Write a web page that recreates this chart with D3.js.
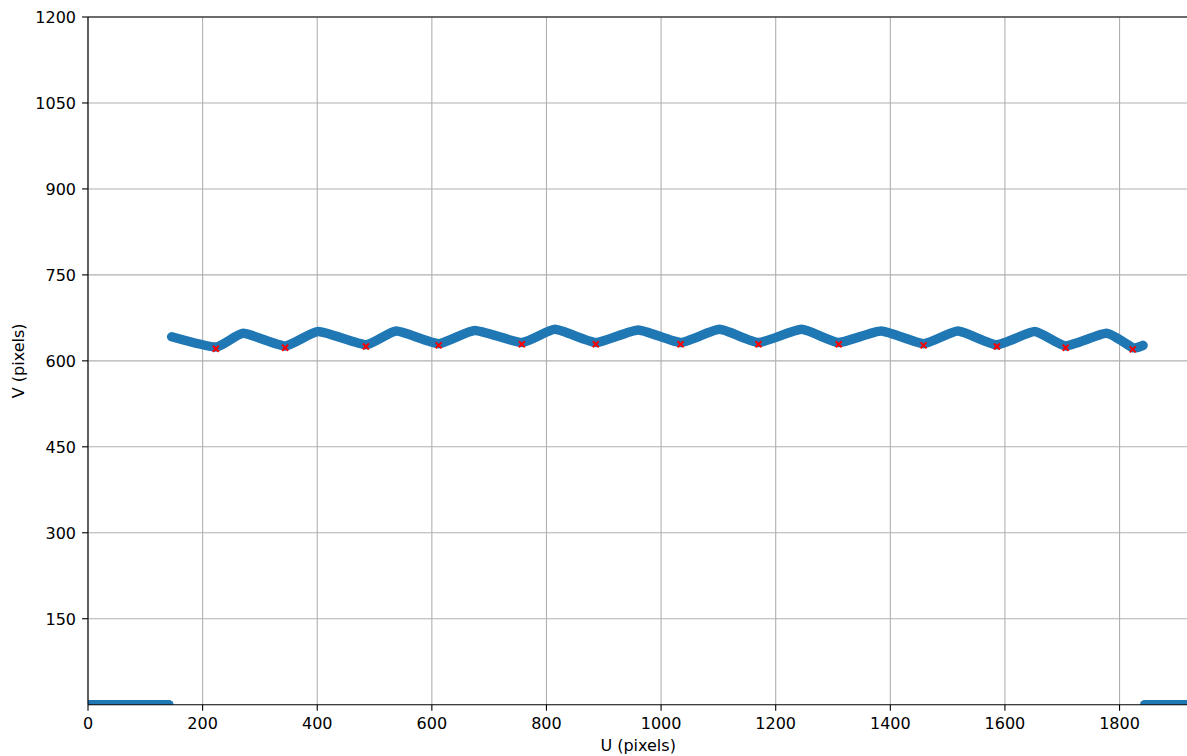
<!DOCTYPE html>
<html><head><meta charset="utf-8">
<script src="https://cdn.jsdelivr.net/npm/d3@7"></script>
<style>body{margin:0;background:#fff}svg{display:block}text{font-family:"DejaVu Sans",sans-serif;fill:#000}</style>
</head><body><svg id="c" width="1187" height="756"></svg>
<script>
// Data
const pathU = [146,223,271,344,402,485,538,612,675,757,815,886,960,1034,1102,1170,1245,1310,1384,1458,1518,1586,1652,1706,1777,1823,1841];
const pathV = [642,624,648,626,651,628,652,630,653,632,655,632,654,632,655,632,655,632,652,630,652,628,651,626,648,623,627];
const troughU = [223,344,485,612,757,886,1034,1170,1310,1458,1586,1706,1823];
const troughV = [621,623,625,627,629,629,629,629,629,627,625,623,620];
const zeroLeftU = [0,141];
const zeroRightU = [1844,1920];
const xTicks = [0,200,400,600,800,1000,1200,1400,1600,1800];
const yTicks = [150,300,450,600,750,900,1050,1200];

const svg = d3.select("#c");
const pLeft = 88, pTop = 17, pBottom = 704.7;
const k = (pBottom - pTop) / 1200;
const x = d3.scaleLinear().domain([0,1920]).range([pLeft, pLeft + 1920*k]);
const y = d3.scaleLinear().domain([0,1200]).range([pBottom, pTop]);

svg.append("defs").append("clipPath").attr("id","clip")
  .append("rect").attr("x",pLeft).attr("y",pTop).attr("width",x(1920)-pLeft).attr("height",pBottom-pTop);

// grid
const g = svg.append("g");
g.selectAll(".gx").data(xTicks).join("line")
  .attr("x1",d=>x(d)).attr("x2",d=>x(d)).attr("y1",pTop).attr("y2",pBottom)
  .attr("stroke","#b0b0b0").attr("stroke-width",1.1);
g.selectAll(".gy").data(yTicks).join("line")
  .attr("x1",pLeft).attr("x2",x(1920)).attr("y1",d=>y(d)).attr("y2",d=>y(d))
  .attr("stroke","#b0b0b0").attr("stroke-width",1.1);

const plot = svg.append("g").attr("clip-path","url(#clip)");
const line = d3.line().x(d=>x(d[0])).y(d=>y(d[1]));
const smooth = d3.line().x(d=>x(d[0])).y(d=>y(d[1])).curve(d3.curveCardinal.tension(0.5));
const blue = "#1f77b4";
const sty = p => p.attr("fill","none").attr("stroke",blue).attr("stroke-width",9.5)
  .attr("stroke-linecap","round").attr("stroke-linejoin","round");
plot.append("path").datum(pathU.map((u,i)=>[u,pathV[i]])).attr("d",smooth).call(sty);
plot.append("path").datum(zeroLeftU.map(u=>[u,0])).attr("d",line).call(sty);
plot.append("path").datum(zeroRightU.map(u=>[u,0])).attr("d",line).call(sty);

// red x markers
const mk = plot.selectAll(".mk").data(troughU.map((u,i)=>[u,troughV[i]])).join("g")
  .attr("transform",d=>`translate(${x(d[0])},${y(d[1])})`);
mk.append("line").attr("x1",-3).attr("y1",-3).attr("x2",3).attr("y2",3).attr("stroke","red").attr("stroke-width",2);
mk.append("line").attr("x1",-3).attr("y1",3).attr("x2",3).attr("y2",-3).attr("stroke","red").attr("stroke-width",2);

// axes
const ax = svg.append("g");
ax.append("line").attr("x1",pLeft).attr("x2",pLeft).attr("y1",pTop).attr("y2",pBottom).attr("stroke","#000").attr("stroke-width",1.1);
ax.append("line").attr("x1",pLeft).attr("x2",x(1920)).attr("y1",pBottom).attr("y2",pBottom).attr("stroke","#000").attr("stroke-width",1.1);
ax.append("line").attr("x1",pLeft).attr("x2",x(1920)).attr("y1",pTop).attr("y2",pTop).attr("stroke","#000").attr("stroke-width",1.1);

ax.selectAll(".tx").data(xTicks).join("line")
  .attr("x1",d=>x(d)).attr("x2",d=>x(d)).attr("y1",pBottom).attr("y2",pBottom+6)
  .attr("stroke","#000").attr("stroke-width",1.1);
ax.selectAll(".tlx").data(xTicks).join("text")
  .attr("x",d=>x(d)).attr("y",pBottom+24.5).attr("text-anchor","middle")
  .attr("font-size",16).text(d=>d);
ax.selectAll(".ty").data(yTicks).join("line")
  .attr("x1",pLeft-6).attr("x2",pLeft).attr("y1",d=>y(d)).attr("y2",d=>y(d))
  .attr("stroke","#000").attr("stroke-width",1.1);
ax.selectAll(".tly").data(yTicks).join("text")
  .attr("x",pLeft-12).attr("y",d=>y(d)+5.8).attr("text-anchor","end")
  .attr("font-size",16).text(d=>d);

svg.append("text").attr("x",(pLeft+x(1920))/2).attr("y",751).attr("text-anchor","middle")
  .attr("font-size",16).text("U (pixels)");
svg.append("text").attr("transform",`translate(24,${(pTop+pBottom)/2}) rotate(-90)`)
  .attr("text-anchor","middle").attr("font-size",16).text("V (pixels)");
</script></body></html>
